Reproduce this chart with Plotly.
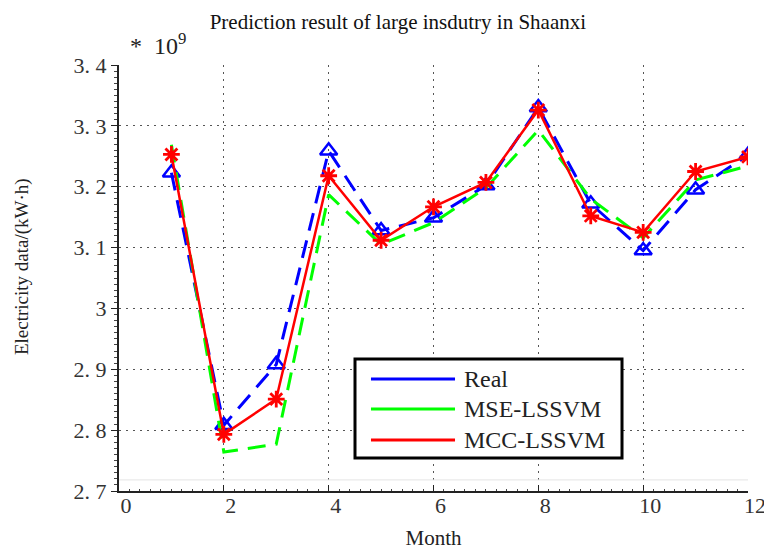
import plotly.graph_objects as go

months = [1, 2, 3, 4, 5, 6, 7, 8, 9, 10, 11, 12]
real = [3.223, 2.808, 2.908, 3.259, 3.128, 3.149, 3.202, 3.330, 3.172, 3.095, 3.195, 3.252]
mse = [3.269, 2.764, 2.777, 3.187, 3.105, 3.141, 3.198, 3.293, 3.180, 3.116, 3.211, 3.234]
mcc = [3.253, 2.793, 2.851, 3.218, 3.112, 3.167, 3.207, 3.326, 3.152, 3.125, 3.225, 3.249]

xticks = [0, 2, 4, 6, 8, 10, 12]
yticks = [2.7, 2.8, 2.9, 3.0, 3.1, 3.2, 3.3, 3.4]
yticktext = ["2. 7", "2. 8", "2. 9", "3", "3. 1", "3. 2", "3. 3", "3. 4"]

series_names = ["Real", "MSE-LSSVM", "MCC-LSSVM"]
series_colors = ["#0000FF", "#00FF00", "#FF0000"]

SERIF = "Liberation Serif, Times New Roman, serif"

fig = go.Figure()

fig.add_trace(go.Scatter(
    x=months, y=real, mode="lines+markers", name=series_names[0], showlegend=False,
    line=dict(color=series_colors[0], width=3, dash="18px,10px"),
    marker=dict(symbol="triangle-up-open", size=15, color=series_colors[0],
                line=dict(width=2.5, color=series_colors[0])),
))
fig.add_trace(go.Scatter(
    x=months, y=mse, mode="lines", name=series_names[1], showlegend=False,
    line=dict(color=series_colors[1], width=3, dash="18px,10px"),
))
fig.add_trace(go.Scatter(
    x=months, y=mcc, mode="lines+markers", name=series_names[2], showlegend=False,
    line=dict(color=series_colors[2], width=2.5),
    marker=dict(symbol="asterisk-open", size=14, color=series_colors[2],
                line=dict(width=2.8, color=series_colors[2])),
))

fig.update_layout(
    width=772, height=551,
    margin=dict(l=111, r=32, t=57, b=68),
    paper_bgcolor="white", plot_bgcolor="white",
    font=dict(family=SERIF, color="#222"),
    title=dict(text="Prediction result of large insdutry in Shaanxi",
               x=0.505, xanchor="center", y=0.975, yanchor="middle",
               font=dict(family=SERIF, size=21, color="#111")),
    showlegend=False,
    xaxis=dict(
        range=[0, 12], tickmode="array", tickvals=xticks,
        ticktext=[str(v) for v in xticks],
        showline=True, linecolor="#222", linewidth=2,
        ticks="inside", ticklen=6, tickcolor="#222",
        showgrid=True, gridcolor="#555", griddash="2px,5px", gridwidth=1,
        zeroline=False, mirror=False,
        tickfont=dict(family=SERIF, size=22, color="#333"),
        ticklabelshift=7, ticklabelstandoff=-6,
        title=dict(text="Month", font=dict(family=SERIF, size=21, color="#222"), standoff=13),
        minor=dict(ticks="inside", ticklen=2, dtick=0.2, tickcolor="#444", showgrid=False),
    ),
    yaxis=dict(
        range=[2.7, 3.4], tickmode="array", tickvals=yticks, ticktext=yticktext,
        showline=True, linecolor="#222", linewidth=2,
        ticks="outside", ticklen=6, tickcolor="#222",
        showgrid=True, gridcolor="#555", griddash="2px,5px", gridwidth=1,
        zeroline=False, mirror=False,
        tickfont=dict(family=SERIF, size=22, color="#333"),
        minor=dict(ticks="outside", ticklen=3, dtick=0.01, tickcolor="#444", showgrid=False),
    ),
)

# y-axis title
fig.add_annotation(
    text="Electricity data/(kW·h)", xref="paper", yref="paper",
    x=-0.154, y=0.526, xanchor="center", yanchor="middle", textangle=-90,
    showarrow=False, font=dict(family=SERIF, size=19, color="#222"),
)

# exponent label
fig.add_annotation(
    text="*  10<sup>9</sup>", xref="paper", yref="paper",
    x=0.015, y=1.01, xanchor="left", yanchor="bottom", showarrow=False,
    font=dict(family=SERIF, size=24, color="#222"),
)

# faint line near the bottom of the plot
fig.add_shape(type="line", xref="paper", yref="paper", x0=0, x1=1, y0=0.026, y1=0.026,
              line=dict(color="#e4e4e4", width=1))

# legend box (drawn manually to match the long solid samples)
fig.add_shape(type="rect", xref="paper", yref="paper",
              x0=0.3752, x1=0.7997, y0=0.0775, y1=0.3099,
              line=dict(color="black", width=3), fillcolor="white", layer="above")
leg_y = [0.263, 0.1925, 0.1197]
for name, col, yy in zip(series_names, series_colors, leg_y):
    fig.add_shape(type="line", xref="paper", yref="paper",
                  x0=0.4006, x1=0.5342, y0=yy, y1=yy,
                  line=dict(color=col, width=3), layer="above")
    fig.add_annotation(text=name, xref="paper", yref="paper", x=0.545, y=yy,
                       xanchor="left", yanchor="middle", showarrow=False,
                       font=dict(family=SERIF, size=24, color="#222"))

fig.write_html("out.html")
